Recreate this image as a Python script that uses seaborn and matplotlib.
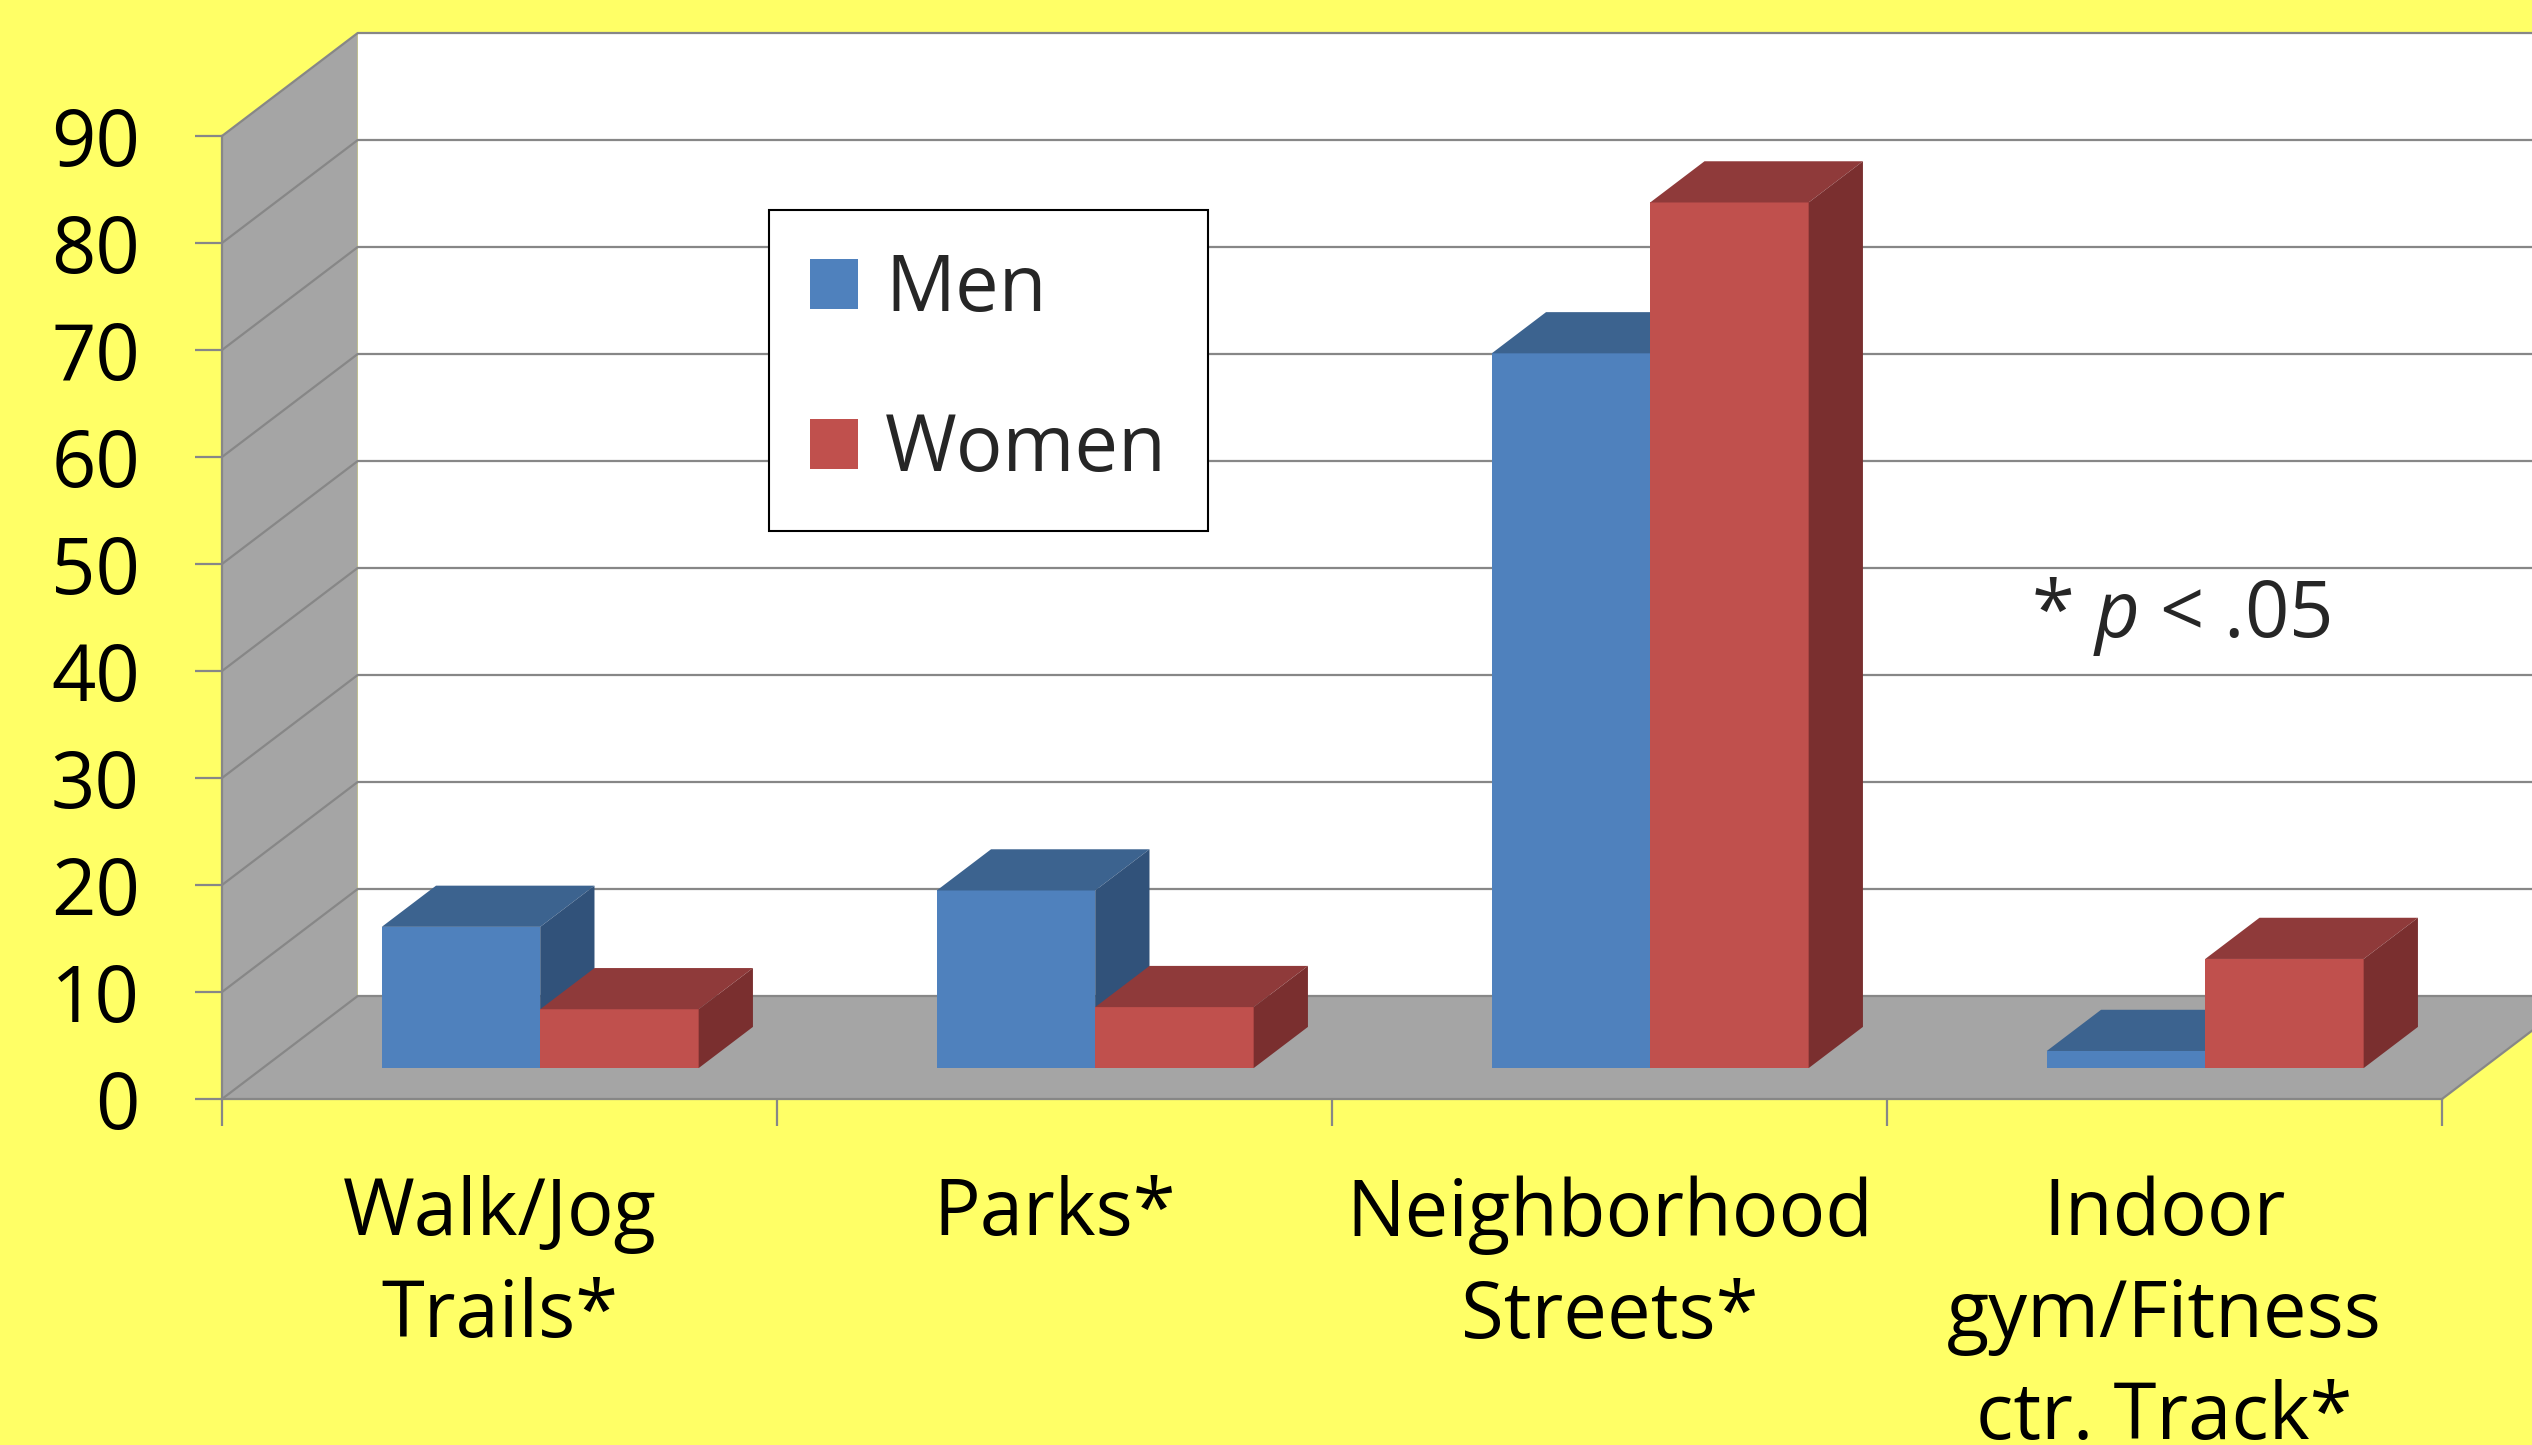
import numpy as np
import pandas as pd
import matplotlib
matplotlib.use("Agg")
import matplotlib.pyplot as plt
import seaborn as sns
from matplotlib.patches import Polygon, Patch
from matplotlib.lines import Line2D
from matplotlib.transforms import Affine2D
from matplotlib.ticker import FixedLocator

# ---------------- data ----------------
categories = ["Walk/Jog\nTrails*", "Parks*", "Neighborhood\nStreets*",
              "Indoor\ngym/Fitness\nctr. Track*"]
series = ["Men", "Women"]
men = [13.2, 16.6, 66.8, 1.6]
women = [5.5, 5.7, 80.9, 10.2]
y_ticks = [0, 10, 20, 30, 40, 50, 60, 70, 80, 90]
note_text = r"* $p$ < .05"

df = pd.DataFrame({
    "location": categories * 2,
    "sex": [series[0]] * len(categories) + [series[1]] * len(categories),
    "pct": men + women,
})

# ---------------- style ----------------
BG = "#FFFF66"
WALL = "#A5A5A5"
LINE = "#878787"
front_cols = ["#4F81BD", "#C0504D"]
top_cols = ["#3C638F", "#8F3A3A"]
side_cols = ["#31527A", "#7A2F2F"]

sns.set_style("white")
plt.rcParams["font.family"] = ["Open Sans", "DejaVu Sans"]
plt.rcParams["mathtext.fontset"] = "custom"
plt.rcParams["mathtext.rm"] = "Open Sans"
plt.rcParams["mathtext.it"] = "Open Sans:italic"

W, H = 2532, 1445
FS = 56
fig = plt.figure(figsize=(W / 100, H / 100), dpi=100, facecolor=BG)
ax = fig.add_axes([222 / W, (H - 1099) / H, (2442 - 222) / W, (1099 - 136) / H])
ax.set_facecolor("none")

sns.barplot(data=df, x="location", y="pct", hue="sex", order=categories,
            hue_order=series, palette=front_cols, saturation=1, width=0.571,
            errorbar=None, linewidth=0, legend=False, ax=ax)

ax.set_xlim(-0.5, len(categories) - 0.5)
ax.set_ylim(0, 90)
x0, x1 = ax.get_xlim()
y0, y1 = ax.get_ylim()

# depth of the 3-D box in data units
DX = 135.7 / 555.0
DY = 103.0 / 10.7
F0, FD = 0.3, 0.4

# walls and floor
back = Polygon([(x0 + DX, y0 + DY), (x1 + DX, y0 + DY), (x1 + DX, y1 + DY), (x0 + DX, y1 + DY)],
               closed=True, facecolor="white", edgecolor="none", zorder=0.5, clip_on=False)
left = Polygon([(x0, y0), (x0 + DX, y0 + DY), (x0 + DX, y1 + DY), (x0, y1)],
               closed=True, facecolor=WALL, edgecolor="none", zorder=0.5, clip_on=False)
floor = Polygon([(x0, y0), (x1, y0), (x1 + DX, y0 + DY), (x0 + DX, y0 + DY)],
                closed=True, facecolor=WALL, edgecolor="none", zorder=0.5, clip_on=False)
for p in (back, left, floor):
    ax.add_patch(p)

for v in y_ticks:
    ax.add_line(Line2D([x0 + DX, x1 + DX], [v + DY, v + DY], color=LINE, lw=1.6,
                       zorder=0.7, clip_on=False))
    ax.add_line(Line2D([x0, x0 + DX], [v, v + DY], color=LINE, lw=1.6,
                       zorder=0.7, clip_on=False))
ax.add_line(Line2D([x1, x1 + DX], [y0, y0 + DY], color=LINE, lw=1.6, zorder=0.7, clip_on=False))

# 3-D bars built from the seaborn bars
shift = Affine2D().translate(F0 * DX, F0 * DY) + ax.transData
for k, cont in enumerate(ax.containers):
    z = 3 + k * 0.1
    for rect in cont:
        bx, bw, bh = rect.get_x(), rect.get_width(), rect.get_height()
        rect.set_transform(shift)
        rect.set_clip_on(False)
        rect.set_zorder(z)
        top = Polygon([(bx, bh), (bx + bw, bh), (bx + bw + FD * DX, bh + FD * DY),
                       (bx + FD * DX, bh + FD * DY)], closed=True,
                      facecolor=top_cols[k], edgecolor="none", transform=shift,
                      zorder=z, clip_on=False)
        side = Polygon([(bx + bw, 0), (bx + bw + FD * DX, FD * DY),
                        (bx + bw + FD * DX, bh + FD * DY), (bx + bw, bh)], closed=True,
                       facecolor=side_cols[k], edgecolor="none", transform=shift,
                       zorder=z, clip_on=False)
        ax.add_patch(top)
        ax.add_patch(side)

# axes, ticks
for s in ("top", "right"):
    ax.spines[s].set_visible(False)
for s in ("left", "bottom"):
    ax.spines[s].set_color(LINE)
    ax.spines[s].set_linewidth(1.6)
    ax.spines[s].set_zorder(2.5)

ax.set_xlabel("")
ax.set_ylabel("")
ax.yaxis.set_major_locator(FixedLocator(y_ticks))
ax.set_yticklabels([str(v) for v in y_ticks])
ax.set_xticks(range(len(categories)))
ax.set_xticklabels(categories)
ax.xaxis.set_minor_locator(FixedLocator(np.arange(-0.5, len(categories), 1.0)))
ax.tick_params(axis="y", which="major", left=True, direction="out", length=19.4,
               width=1.6, color=LINE, pad=39.6, labelsize=FS, labelcolor="black")
ax.tick_params(axis="x", which="major", bottom=True, length=0, pad=55,
               labelsize=FS, labelcolor="black")
ax.tick_params(axis="x", which="minor", bottom=True, direction="out", length=19.4,
               width=1.6, color=LINE)
for t in ax.get_xticklabels():
    t.set_linespacing(1.38)

# legend
handles = [Patch(facecolor=c, edgecolor="none") for c in front_cols]
leg = ax.legend(handles, series, loc="upper left", bbox_to_anchor=(769 / W, 1 - 210 / H),
                bbox_transform=fig.transFigure, fontsize=FS, frameon=True, fancybox=False,
                edgecolor="black", facecolor="white", framealpha=1, borderpad=0.53,
                labelspacing=1.04, handlelength=0.62, handleheight=0.62,
                handletextpad=0.34, borderaxespad=0)
leg.get_frame().set_linewidth(1.5)
leg.set_zorder(10)

fig.text(2181 / W, 1 - 637 / H, note_text, ha="center", va="baseline", fontsize=FS)

fig.savefig("out.png", dpi=100, facecolor=BG)
